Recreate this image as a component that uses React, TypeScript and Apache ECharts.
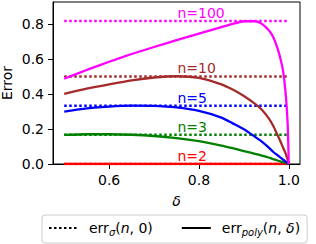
import React, { useEffect, useRef } from "react";
import * as echarts from "echarts";

const DELTA = [0.5, 0.55, 0.6, 0.65, 0.7, 0.75, 0.8, 0.85, 0.875, 0.9, 0.925, 0.94, 0.955, 0.965, 0.975, 0.983, 0.988, 0.992, 0.995, 0.998, 1.0];
const POLY_N2 = [0, 0, 0, 0, 0, 0, 0, 0, 0, 0, 0, 0, 0, 0, 0, 0, 0, 0, 0, 0, 0];
const POLY_N3 = [0.166, 0.17, 0.17, 0.167, 0.16, 0.148, 0.13, 0.105, 0.09, 0.074, 0.058, 0.048, 0.037, 0.028, 0.02, 0.014, 0.01, 0.007, 0.004, 0.002, 0];
const POLY_N5 = [0.299, 0.317, 0.328, 0.333, 0.332, 0.323, 0.303, 0.265, 0.232, 0.198, 0.155, 0.128, 0.095, 0.07, 0.05, 0.034, 0.024, 0.016, 0.01, 0.004, 0];
const POLY_N10 = [0.4, 0.43, 0.455, 0.478, 0.494, 0.501, 0.492, 0.455, 0.425, 0.388, 0.343, 0.31, 0.262, 0.22, 0.165, 0.12, 0.09, 0.066, 0.045, 0.02, 0];
const POLY_N100 = [0.487, 0.537, 0.584, 0.628, 0.668, 0.707, 0.745, 0.782, 0.8, 0.815, 0.815, 0.8, 0.765, 0.727, 0.66, 0.585, 0.52, 0.43, 0.34, 0.2, 0];

const N_LABELS = ["n=2", "n=3", "n=5", "n=10", "n=100"];
const ERR_SIGMA = [0, 0.1667, 0.3333, 0.5, 0.8165];
const POLY = [POLY_N2, POLY_N3, POLY_N5, POLY_N10, POLY_N100];
const COLORS = ["#ff0000", "#008000", "#0000ff", "#a52a2a", "#ff00ff"];
const SIGMA_RANGE = [0.5, 1.0];
const LABEL_DELTA = 0.752;
const X_TICKS = [0.6, 0.8, 1.0];
const Y_TICKS = [0, 0.2, 0.4, 0.6, 0.8];

const FONT = "DejaVu Sans";
const DOT = [2.5, 2.5];

export default function App() {
  const ref = useRef<HTMLDivElement>(null);
  useEffect(() => {
    if (!ref.current) return;
    const chart = echarts.init(ref.current, undefined, { renderer: "svg" });
    const series: any[] = [];
    N_LABELS.forEach((lab, k) => {
      series.push({
        type: "line",
        name: "sigma_" + k,
        data: SIGMA_RANGE.map((d) => [d, ERR_SIGMA[k]]),
        symbol: "none",
        lineStyle: { color: COLORS[k], width: 2.5, type: DOT },
        itemStyle: { color: COLORS[k] },
        markPoint: {
          symbol: "circle",
          symbolSize: 0,
          data: [{ coord: [LABEL_DELTA, ERR_SIGMA[k]] }],
          label: {
            show: true,
            formatter: lab,
            position: [0, 0],
            align: "left",
            verticalAlign: "bottom",
            offset: [0, -1],
            color: COLORS[k],
            fontSize: 14,
            fontFamily: FONT,
          },
        },
      });
      series.push({
        type: "line",
        name: "poly_" + k,
        data: DELTA.map((d, i) => [d, POLY[k][i]]),
        symbol: "none",
        smooth: 0.2,
        lineStyle: { color: COLORS[k], width: 2.3 },
        itemStyle: { color: COLORS[k] },
      });
    });
    series.push({
      type: "line",
      name: "sigma",
      data: [],
      symbol: "none",
      lineStyle: { color: "#000", width: 2.5, type: DOT },
      itemStyle: { color: "#000" },
    });
    series.push({
      type: "line",
      name: "poly",
      data: [],
      symbol: "none",
      lineStyle: { color: "#000", width: 2.3 },
      itemStyle: { color: "#000" },
    });

    chart.setOption({
      animation: false,
      textStyle: { fontFamily: FONT },
      grid: {
        left: 53,
        right: 16,
        top: 2,
        bottom: 80,
        show: true,
        borderColor: "#000",
        borderWidth: 1,
        outerBoundsMode: "none",
      },
      xAxis: {
        type: "value",
        min: 0.475,
        max: 1.025,
        name: "δ",
        nameLocation: "middle",
        nameGap: 30,
        nameMoveOverlap: false,
        nameTextStyle: { fontSize: 14, fontStyle: "italic", color: "#000", fontFamily: FONT },
        axisLine: { lineStyle: { color: "#000", width: 1 } },
        axisTick: { show: true, length: 5, customValues: X_TICKS, lineStyle: { color: "#000" } },
        axisLabel: {
          customValues: X_TICKS,
          formatter: (v: number) => v.toFixed(1),
          color: "#000",
          fontSize: 14,
          margin: 9,
          fontFamily: FONT,
        },
        splitLine: { show: false },
      },
      yAxis: {
        type: "value",
        min: 0,
        max: 0.925,
        name: "Error",
        nameLocation: "middle",
        nameGap: 39,
        nameMoveOverlap: false,
        nameTextStyle: { fontSize: 14, color: "#000", fontFamily: FONT, lineHeight: 14 },
        axisLine: { show: true, lineStyle: { color: "#000", width: 1 } },
        axisTick: { show: true, length: 5, customValues: Y_TICKS, lineStyle: { color: "#000" } },
        axisLabel: {
          customValues: Y_TICKS,
          formatter: (v: number) => v.toFixed(1),
          color: "#000",
          fontSize: 14,
          margin: 9,
          fontFamily: FONT,
        },
        splitLine: { show: false },
      },
      legend: {
        data: ["sigma", "poly"],
        left: 42,
        top: 215,
        orient: "horizontal",
        itemWidth: 29,
        itemHeight: 14,
        itemGap: 28,
        padding: [6, 7, 6, 6],
        borderColor: "#cccccc",
        borderWidth: 1,
        borderRadius: 3,
        itemStyle: { opacity: 0 },
        formatter: (name: string) =>
          name === "sigma"
            ? "{a|err}{s|σ}{t|(}{i|n}{t|, 0)}"
            : "{a|err}{s|poly}{t|(}{i|n}{t|, }{i|δ}{t|)}",
        textStyle: {
          color: "#000",
          fontFamily: FONT,
          fontSize: 14,
          rich: {
            a: { fontSize: 14, fontFamily: FONT, color: "#000", padding: [0, 0, 0, 6], lineHeight: 18 },
            t: { fontSize: 14, fontFamily: FONT, color: "#000", lineHeight: 18 },
            i: { fontSize: 14, fontFamily: FONT, color: "#000", fontStyle: "italic", lineHeight: 18 },
            s: { fontSize: 10, fontFamily: FONT, color: "#000", fontStyle: "italic", lineHeight: 9, verticalAlign: "bottom" },
          },
        },
      },
      series,
    });
    return () => chart.dispose();
  }, []);
  return <div ref={ref} style={{ width: 316, height: 244, position: "absolute", left: 0, top: 0 }} />;
}
